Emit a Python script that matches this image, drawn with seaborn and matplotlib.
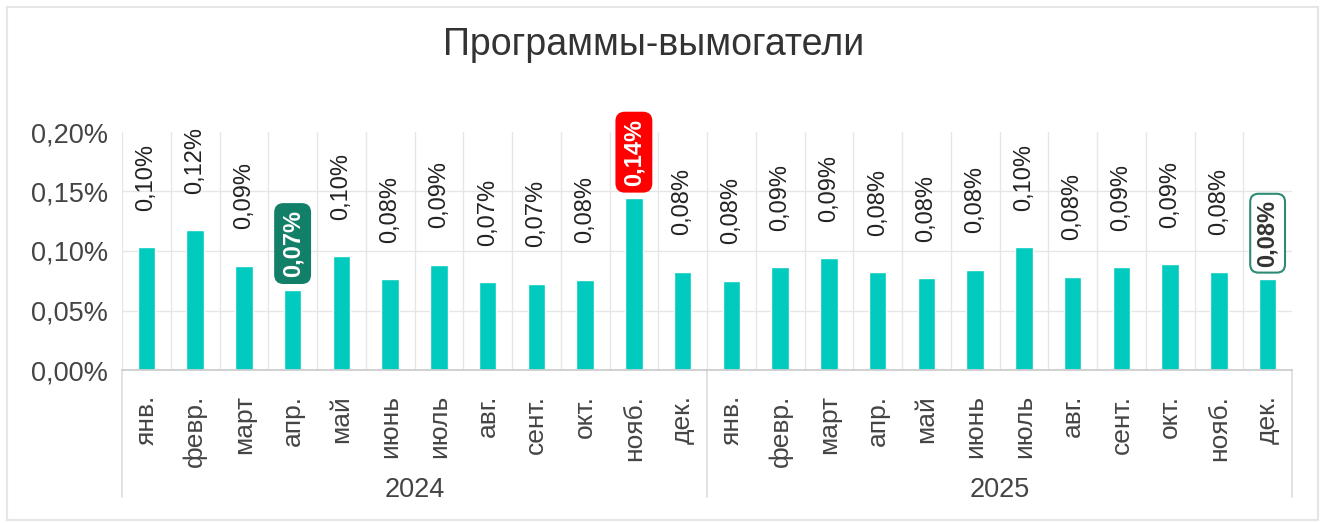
import matplotlib.pyplot as plt
import matplotlib.transforms as mtransforms
from matplotlib.patches import Rectangle
import pandas as pd
import seaborn as sns

# data
months = ["янв.", "февр.", "март", "апр.", "май", "июнь",
          "июль", "авг.", "сент.", "окт.", "нояб.", "дек."]
years = ["2024", "2025"]
values_2024 = [0.1032, 0.1173, 0.0878, 0.0676, 0.0956, 0.0766,
               0.0886, 0.0737, 0.0726, 0.0760, 0.1444, 0.0827]
values_2025 = [0.0752, 0.0864, 0.0939, 0.0822, 0.0774, 0.0844,
               0.1032, 0.0785, 0.0864, 0.0889, 0.0827, 0.0763]
y_ticks = [0.00, 0.05, 0.10, 0.15, 0.20]
title = "Программы-вымогатели"

df = pd.DataFrame({
    "pos": range(len(months) * len(years)),
    "month": months * len(years),
    "year": [y for y in years for _ in months],
    "value": values_2024 + values_2025,
})


def pct(v):
    return f"{v:.2f}".replace(".", ",") + "%"


sns.set_theme(style="white")
plt.rcParams["font.family"] = ["Liberation Sans", "DejaVu Sans"]

W, H = 1323, 523
fig = plt.figure(figsize=(W / 100, H / 100), dpi=100)
ax = fig.add_axes([122 / W, 1 - 370 / H, (1292 - 122) / W, (370 - 132) / H])

sns.barplot(
    data=df,
    x="pos",
    y="value",
    color="#00CBBE",
    saturation=1,
    width=0.36,
    errorbar=None,
    ax=ax
)

n = len(df)
ax.set_xlim(-0.5, n - 0.5)
ax.set_ylim(0, 0.2)
ax.set_xlabel("")
ax.set_ylabel("")

# x axis
ax.set_xticks(range(n))
ax.set_xticklabels(df["month"], rotation=90, fontsize=19, color="#444")
ax.set_xticks([i - 0.5 for i in range(n)], minor=True)
ax.tick_params(axis="x", which="major", length=6, width=1, color="#ccc", pad=12)
ax.tick_params(axis="x", which="minor", length=0)
ax.grid(axis="x", which="minor", color="#e6e6e6", lw=1)

# y axis
ax.set_yticks(y_ticks)
ax.set_yticklabels([pct(t) for t in y_ticks], fontsize=19.5, color="#444")
ax.tick_params(axis="y", length=6, width=1, color="#ccc", pad=4)
ax.grid(axis="y", which="major", color="#e6e6e6", lw=1)
ax.yaxis.get_gridlines()[-1].set_visible(False)

for s in ["top", "right", "left"]:
    ax.spines[s].set_visible(False)
ax.spines["bottom"].set_color("#ccc")
ax.set_axisbelow(True)

# year groups under the month labels
trans = mtransforms.blended_transform_factory(ax.transData, ax.transAxes)
for xb in [-0.5, 11.5, n - 0.5]:
    ax.plot([xb, xb], [0, -0.534], transform=trans, color="#ddd",
            lw=1.2, clip_on=False)
for k, yr in enumerate(years):
    ax.text(k * 12 + 5.5, -0.504, yr, transform=trans, ha="center",
            va="center", fontsize=19.5, color="#444")

# value labels
highlight = {
    3: dict(fc="#127F69", ec="#127F69", color="white"),
    10: dict(fc="#FF0000", ec="#FF0000", color="white"),
    23: dict(fc="white", ec="#2E8B74", color="#333"),
}
for i, v in enumerate(df["value"]):
    if i in highlight:
        h = highlight[i]
        ax.annotate(
            pct(v), (i, v), xytext=(0, 9), textcoords="offset points",
            rotation=90, ha="center", va="bottom", fontsize=17,
            fontweight="bold", color=h["color"],
            bbox=dict(boxstyle="round,pad=0.25,rounding_size=0.35",
                      fc=h["fc"], ec=h["ec"], lw=1.5)
        )
    else:
        ax.annotate(
            pct(v), (i, v), xytext=(0, 26), textcoords="offset points",
            rotation=90, ha="center", va="bottom", fontsize=17,
            color="#222"
        )

fig.text(654 / W, 1 - 55 / H, title, ha="center", va="baseline",
         fontsize=27, color="#333")

fig.add_artist(Rectangle((7 / W, 3 / H), (1318 - 7) / W, (516 - 3) / H,
                         transform=fig.transFigure, fill=False,
                         ec="#e6e6e6", lw=1.5))

fig.savefig("out.png", dpi=100)
